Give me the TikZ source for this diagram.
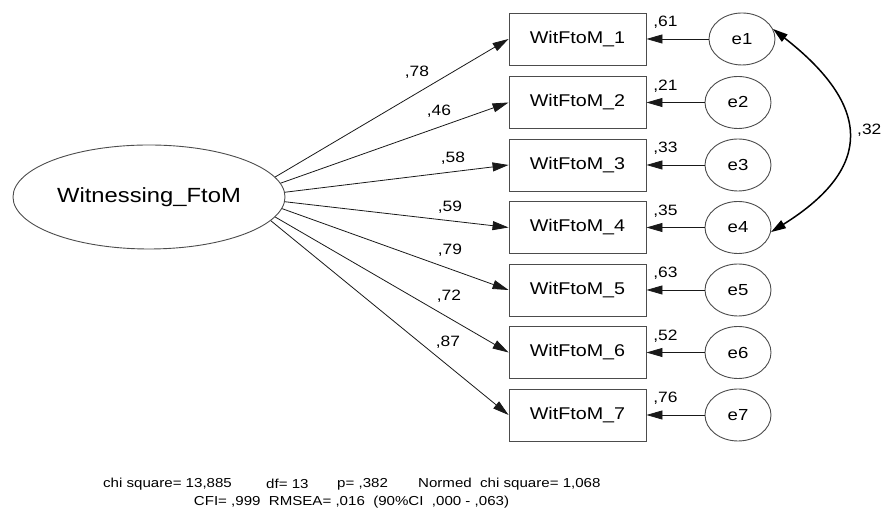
\documentclass[tikz,border=0pt]{standalone}
\usepackage{fontspec}
\setmainfont{Liberation Sans}[FakeStretch=1.16]
\usetikzlibrary{shapes.geometric,arrows.meta}
\begin{document}
\begin{tikzpicture}[x=1pt,y=1pt,
  obs/.style={draw=black!70, line width=0.9pt, minimum width=137pt, minimum height=52pt, inner sep=0pt, font=\fontsize{17}{20}\selectfont},
  err/.style={ellipse, draw=black!70, line width=0.9pt, minimum width=66pt, minimum height=52pt, inner sep=0pt, font=\fontsize{16}{19}\selectfont},
  lat/.style={ellipse, draw=black!70, line width=0.9pt, minimum width=272pt, minimum height=104pt, inner sep=0pt, font=\fontsize{20.5}{24}\selectfont},
  num/.style={font=\fontsize{15}{18}\selectfont, inner sep=0pt},
  pth/.style={draw=black!90, line width=0.8pt, -{Triangle[length=16pt,width=9pt]}},
  cov/.style={draw=black, line width=1.5pt, {Triangle[length=15pt,width=9pt]}-{Triangle[length=15pt,width=9pt]}},
  stat/.style={font=\fontsize{13}{15}\selectfont, inner sep=0pt, anchor=west}
]
\useasboundingbox (0,0) rectangle (883,518);
\node[lat] (L) at (149,321) {Witnessing\_FtoM};
\node[obs] (b1) at (577.5,479) {WitFtoM\_1};
\node[obs] (b2) at (577.5,415.5) {WitFtoM\_2};
\node[obs] (b3) at (577.5,353) {WitFtoM\_3};
\node[obs] (b4) at (577.5,290.5) {WitFtoM\_4};
\node[obs] (b5) at (577.5,228) {WitFtoM\_5};
\node[obs] (b6) at (577.5,165.5) {WitFtoM\_6};
\node[obs] (b7) at (577.5,103) {WitFtoM\_7};
\node[err] (e1) at (742,479) {e1};
\node[err] (e2) at (738,415.5) {e2};
\node[err] (e3) at (738,353) {e3};
\node[err] (e4) at (738,290.5) {e4};
\node[err] (e5) at (738,228) {e5};
\node[err] (e6) at (738,165.5) {e6};
\node[err] (e7) at (738,103) {e7};
\draw[pth] (L.9) -- (b1.west);
\draw[pth] (L.6) -- (b2.west);
\draw[pth] (L.2) -- (b3.west);
\draw[pth] (L.-2) -- (b4.west);
\draw[pth] (L.-5) -- (b5.west);
\draw[pth] (L.-9) -- (b6.west);
\draw[pth] (L.-11) -- (b7.west);
\node[num] (l1) at (417,446) {,78};
\node[num] (l2) at (439,407) {,46};
\node[num] (l3) at (453,360) {,58};
\node[num] (l4) at (450,311) {,59};
\node[num] (l5) at (450,268) {,79};
\node[num] (l6) at (449,222) {,72};
\node[num] (l7) at (448,176) {,87};
\foreach \i in {1,...,7} {\draw[pth] (e\i) -- (b\i);}
\node[num] (r1) at ([shift={(19,-10)}]b1.north east) {,61};
\node[num] (r2) at ([shift={(19,-10)}]b2.north east) {,21};
\node[num] (r3) at ([shift={(19,-10)}]b3.north east) {,33};
\node[num] (r4) at ([shift={(19,-10)}]b4.north east) {,35};
\node[num] (r5) at ([shift={(19,-10)}]b5.north east) {,63};
\node[num] (r6) at ([shift={(19,-10)}]b6.north east) {,52};
\node[num] (r7) at ([shift={(19,-10)}]b7.north east) {,76};
\draw[cov] (e1.18) to[out=-38,in=32,looseness=1.55] (e4.-8);
\node[num, anchor=west] (c14) at (857,388) {,32};
\node[stat] (s1) at (103,34) {chi square= 13,885};
\node[stat] (s2) at (266,34) {df= 13};
\node[stat] (s3) at (337,34) {p= ,382};
\node[stat] (s4) at (418,34) {Normed\ \ chi square= 1,068};
\node[font=\fontsize{13}{15}\selectfont, inner sep=0pt] (s5) at (351.5,16) {CFI= ,999\ \ RMSEA= ,016\ \ (90\%CI\ \ ,000 - ,063)};
\end{tikzpicture}
\end{document}
